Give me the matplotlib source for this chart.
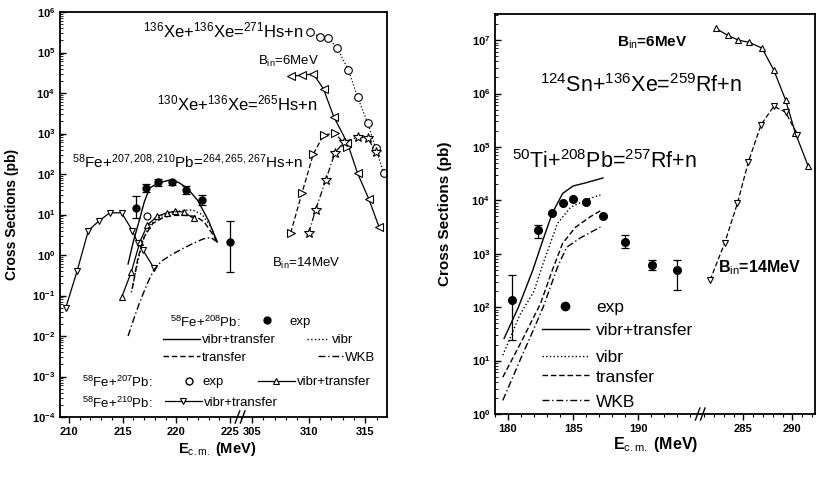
import numpy as np
import matplotlib
matplotlib.use("Agg")
import matplotlib.pyplot as plt
from matplotlib.lines import Line2D
from matplotlib.legend import Legend
from matplotlib.ticker import FixedLocator, LogLocator, NullFormatter, FuncFormatter

plt.rcParams['font.family'] = ['Liberation Sans', 'DejaVu Sans']
plt.rcParams['mathtext.fontset'] = 'custom'
plt.rcParams['mathtext.rm'] = 'Liberation Sans'
plt.rcParams['mathtext.it'] = 'Liberation Sans:italic'
plt.rcParams['mathtext.bf'] = 'Liberation Sans:bold'
plt.rcParams['mathtext.default'] = 'regular'

# ---------------- left panel data (Hs) ----------------
# 58Fe+210Pb vibr+transfer
fe210_E = [209.7, 210.75, 211.8, 212.8, 213.8, 214.9, 215.9, 216.4, 216.9, 217.9]
fe210_s = [0.05, 0.4, 4.0, 7.0, 11, 11, 4.0, 2.0, 1.3, 0.48]
# 58Fe+207Pb vibr+transfer
fe207_E = [214.9, 215.8, 216.6, 217.3, 218.2, 219.1, 219.9, 220.7, 221.6]
fe207_s = [0.09, 0.38, 2.1, 5.5, 9, 11, 12, 11.5, 8]
fe207_expE = [217.3]
fe207_exps = [9]
# 58Fe+208Pb exp
fe208_E = [216.2, 217.2, 218.3, 219.6, 220.9, 222.4, 225.0]
fe208_s = [14.5, 45, 63, 63, 40, 23, 2.1]
fe208_lo = [8, 35, 52, 55, 32, 17, 0.38]
fe208_hi = [28, 58, 76, 72, 50, 30, 7]
# 58Fe+208Pb theory
vt_E = [215.5, 216.0, 216.5, 217.0, 217.5, 218.3, 219.3, 220.2, 221.0, 222.0, 223.0, 223.8]
vt_s = [0.6, 2.2, 6.5, 20, 45, 60, 70, 62, 45, 22, 7, 2.1]
vb_E = [215.8, 216.3, 216.8, 217.5, 218.5, 219.5, 220.5, 221.5, 222.4, 223.2, 223.8]
vb_s = [0.12, 0.5, 2.0, 5.5, 9, 11, 12.5, 13, 10, 5, 2.1]
tr_E = [215.9, 216.4, 217.0, 217.8, 218.8, 219.8, 220.8, 221.8, 222.6, 223.3, 223.8]
tr_s = [0.15, 0.8, 2.8, 6, 8.5, 9.5, 9.5, 9, 6.5, 3.5, 2.1]
wkb_E = [215.5, 216.0, 216.6, 217.3, 217.9, 218.6, 219.5, 220.5, 221.5, 222.5, 223.2, 223.8]
wkb_s = [0.01, 0.025, 0.07, 0.2, 0.43, 0.7, 1.0, 1.4, 1.9, 2.5, 2.7, 2.1]
# Xe+Xe
xe136_E = [310.1, 311.0, 311.7, 312.5, 313.5, 314.3, 315.2, 315.9, 316.6]
xe136_s = [3.2e5, 2.4e5, 2.3e5, 1.3e5, 3.7e4, 8.0e3, 1.8e3, 440, 105]
xe6_E = [308.4, 309.4, 310.4, 311.3, 312.2, 313.4, 314.3, 315.3, 316.2]
xe6_s = [2.6e4, 2.75e4, 2.95e4, 1.26e4, 2.6e3, 590, 105, 24, 4.9]
xe130_E = [308.4, 309.4, 310.4, 311.3, 312.3, 313.4]
xe130_s = [3.5, 34, 310, 910, 1020, 470]
xe14_E = [310.0, 310.6, 311.5, 312.3, 313.1, 314.3, 315.2, 315.9]
xe14_s = [3.5, 13, 71, 330, 620, 810, 780, 350]

# ---------------- right panel data (Rf) ----------------
sn6_E = [282.2, 283.4, 284.5, 285.6, 286.9, 288.1, 289.3, 290.3, 291.6]
sn6_s = [1.66e7, 1.23e7, 1.0e7, 9.1e6, 7.1e6, 2.75e6, 7.6e5, 1.82e5, 4.4e4]
sn14_E = [281.6, 283.1, 284.4, 285.5, 286.8, 288.1, 289.3, 290.5]
sn14_s = [320, 1600, 8900, 5.2e4, 2.6e5, 5.8e5, 4.5e5, 1.7e5]
ti_E = [180.3, 182.3, 183.4, 184.2, 185.0, 186.0, 187.3, 189.0, 191.1, 193.0]
ti_s = [135, 2750, 5800, 8900, 10500, 9300, 5000, 1650, 620, 490]
ti_lo = [24, 1950, 5800, 8900, 10500, 9300, 5000, 1260, 490, 210]
ti_hi = [400, 3470, 5800, 8900, 10500, 9300, 5000, 2240, 760, 760]
tvt_E = [179.7, 180.8, 181.9, 182.6, 183.4, 184.2, 185.0, 186.0, 187.3]
tvt_s = [26, 100, 490, 1580, 5750, 13500, 18600, 21400, 26300]
tvb_E = [179.6, 180.9, 182.0, 182.7, 183.8, 184.8, 186.1, 187.1]
tvb_s = [12.6, 71, 200, 660, 3700, 7400, 10500, 12600]
ttr_E = [179.6, 181.0, 182.5, 183.4, 184.2, 185.2, 186.3, 187.2]
ttr_s = [4.9, 22, 117, 490, 1580, 3160, 4900, 6600]
twkb_E = [179.6, 181.0, 182.0, 182.7, 183.8, 184.5, 185.5, 187.1]
twkb_s = [1.8, 11.2, 40, 100, 560, 1320, 1950, 3160]

W, H = 817, 479


def broken(lo_end, hi_start, ratio):
    mid = 0.5 * (lo_end + hi_start)

    def fwd(x):
        x = np.asarray(x, float)
        return np.where(x < mid, x, lo_end + (x - hi_start) * ratio)

    def inv(u):
        u = np.asarray(u, float)
        return np.where(u < lo_end, u, hi_start + (u - lo_end) / ratio)
    return fwd, inv


def pbox(l, r, t, b):
    return [l / W, 1 - b / H, (r - l) / W, (b - t) / H]


def ftext(px, py, s, fs, **kw):
    fig.text(px / W, 1 - py / H, s, fontsize=fs, va='baseline', ha='left', **kw)


def key(ax, x, y, h, label, hl, pad, fs):
    lg = Legend(ax, [h], [label], loc='center left', bbox_to_anchor=(x, y),
                frameon=False, borderpad=0, borderaxespad=0, handlelength=hl,
                handletextpad=pad, fontsize=fs, numpoints=1)
    ax.add_artist(lg)


def style(ax, xlim, lo_end, hi_start, ratio, majors, minors, ylim):
    fwd, inv = broken(lo_end, hi_start, ratio)
    ax.set_xscale('function', functions=(fwd, inv))
    ax.set_yscale('log')
    ax.set_xlim(*xlim)
    ax.set_ylim(*ylim)
    ax.xaxis.set_major_locator(FixedLocator(majors))
    ax.xaxis.set_minor_locator(FixedLocator(minors))
    ax.xaxis.set_major_formatter(FuncFormatter(lambda v, p: '%d' % round(v)))
    ax.yaxis.set_major_locator(LogLocator(base=10, numticks=20))
    ax.yaxis.set_minor_locator(LogLocator(base=10, subs=np.arange(2, 10), numticks=20))
    ax.yaxis.set_minor_formatter(NullFormatter())
    ax.yaxis.set_major_formatter(FuncFormatter(
        lambda v, p: r'$\mathbf{10^{%d}}$' % round(np.log10(v))))
    ax.tick_params(axis='x', which='major', direction='out', length=4, width=1, labelsize=8)
    ax.tick_params(axis='x', which='minor', direction='out', length=2.5, width=0.8)
    ax.tick_params(axis='y', which='major', direction='in', length=4, width=1, labelsize=8)
    ax.tick_params(axis='y', which='minor', direction='in', length=2, width=0.6)
    for lab in ax.get_xticklabels():
        lab.set_fontweight('bold')
    for sp in ax.spines.values():
        sp.set_linewidth(1.3)
    # break marks on the x axis
    u0 = xlim[0]
    u1 = float(fwd(xlim[1]))
    fb = (lo_end - u0) / (u1 - u0)
    for dx in (-0.008, 0.008):
        ax.plot([fb + dx - 0.007, fb + dx + 0.007], [-0.015, 0.015], color='k', lw=1,
                transform=ax.transAxes, clip_on=False)


fig = plt.figure(figsize=(W / 100, H / 100), dpi=100)
axL = fig.add_axes(pbox(60, 387, 12, 417))
axR = fig.add_axes(pbox(495, 815, 14, 414))

mk = dict(mfc='white', mec='k', mew=0.8, color='k', lw=0.9)

# ---- left panel ----
axL.plot(fe210_E, fe210_s, marker='v', ms=5, ls='-', **mk)
axL.plot(fe207_E, fe207_s, marker='^', ms=5, ls='-', **mk)
axL.plot(fe207_expE, fe207_exps, marker='o', ms=5, ls='none', mfc='white', mec='k', mew=0.8)
axL.plot(vt_E, vt_s, color='k', lw=1.0, ls='-')
axL.plot(vb_E, vb_s, color='k', lw=1.0, ls=':')
axL.plot(tr_E, tr_s, color='k', lw=1.0, ls='--', dashes=(4, 2))
axL.plot(wkb_E, wkb_s, color='k', lw=1.0, ls='-.', dashes=(5, 2, 1, 2))
axL.errorbar(fe208_E, fe208_s,
             yerr=[np.array(fe208_s) - np.array(fe208_lo), np.array(fe208_hi) - np.array(fe208_s)],
             fmt='o', ms=5, color='k', ecolor='k', elinewidth=0.9, capsize=3, capthick=0.9)
axL.plot(xe136_E, xe136_s, marker='o', ms=5.5, ls=':', **mk)
axL.plot(xe6_E, xe6_s, marker='<', ms=5.5, ls='-', **mk)
axL.plot(xe130_E, xe130_s, marker='>', ms=5.5, ls='--', dashes=(4, 2), **mk)
axL.plot(xe14_E, xe14_s, marker='*', ms=7, ls='-.', dashes=(5, 2, 1, 2), **mk)

style(axL, (209.16, 316.9), 225.93, 303.94, 1.056,
      [210, 215, 220, 225, 305, 310, 315],
      list(range(210, 226)) + list(range(304, 317)), (1e-4, 1e6))

axL.set_xlabel(r'E$_{\rm c.m.}$ (MeV)', fontsize=10.5, fontweight='bold')
axL.xaxis.set_label_coords(0.48, -0.057)
axL.set_ylabel('Cross Sections (pb)', fontsize=10, fontweight='bold')
axL.yaxis.set_label_coords(-0.125, 0.5)

fsl = 9.5
key(axL, 0.600, 0.2346, Line2D([], [], marker='o', ms=5, color='k', ls='none'), 'exp', 1.6, 0.9, fsl)
key(axL, 0.315, 0.190, Line2D([], [], color='k', lw=1), 'vibr+transfer', 2.8, 0.15, fsl)
key(axL, 0.755, 0.190, Line2D([], [], color='k', lw=1, ls=':'), 'vibr', 1.6, 0.3, fsl)
key(axL, 0.315, 0.146, Line2D([], [], color='k', lw=1, ls='--', dashes=(4, 2)), 'transfer', 2.8, 0.15, fsl)
key(axL, 0.790, 0.146, Line2D([], [], color='k', lw=1, ls='-.', dashes=(5, 2, 1, 2)), 'WKB', 1.9, 0.15, fsl)
key(axL, 0.375, 0.0864, Line2D([], [], marker='o', ms=5, ls='none', mfc='white', mec='k'), 'exp', 1.0, 0.5, fsl)
key(axL, 0.605, 0.0864, Line2D([], [], marker='^', ms=5, **mk), 'vibr+transfer', 2.8, 0.15, fsl)
key(axL, 0.321, 0.0346, Line2D([], [], marker='v', ms=5, **mk), 'vibr+transfer', 2.8, 0.15, fsl)

# ---- right panel ----
axR.plot(sn6_E, sn6_s, marker='^', ms=4.5, ls='-', **mk)
axR.plot(sn14_E, sn14_s, marker='v', ms=4.5, ls='--', dashes=(4, 2), **mk)
axR.plot(tvt_E, tvt_s, color='k', lw=1.0, ls='-')
axR.plot(tvb_E, tvb_s, color='k', lw=1.0, ls=':')
axR.plot(ttr_E, ttr_s, color='k', lw=1.0, ls='--', dashes=(4, 2))
axR.plot(twkb_E, twkb_s, color='k', lw=1.0, ls='-.', dashes=(5, 2, 1, 2))
axR.errorbar(ti_E, ti_s,
             yerr=[np.array(ti_s) - np.array(ti_lo), np.array(ti_hi) - np.array(ti_s)],
             fmt='o', ms=5.5, color='k', ecolor='k', elinewidth=0.9, capsize=3, capthick=0.9)

style(axR, (179.0, 292.3), 194.77, 280.6, 0.754,
      [180, 185, 190, 285, 290],
      list(range(179, 195)) + list(range(281, 293)), (1, 10 ** 7.49))

axR.set_xlabel(r'E$_{\rm c.m.}$ (MeV)', fontsize=11.5, fontweight='bold')
axR.xaxis.set_label_coords(0.503, -0.0525)
axR.set_ylabel('Cross Sections (pb)', fontsize=11, fontweight='bold')
axR.yaxis.set_label_coords(-0.134, 0.5)

fsr = 12.5
key(axR, 0.147, 0.2675, Line2D([], [], marker='o', ms=6, color='k', ls='none'), 'exp', 2.7, 0.4, fsr)
key(axR, 0.147, 0.210, Line2D([], [], color='k', lw=1), 'vibr+transfer', 2.7, 0.4, fsr)
key(axR, 0.147, 0.1425, Line2D([], [], color='k', lw=1, ls=':'), 'vibr', 2.7, 0.4, fsr)
key(axR, 0.147, 0.0925, Line2D([], [], color='k', lw=1, ls='--', dashes=(4, 2)), 'transfer', 2.7, 0.4, fsr)
key(axR, 0.147, 0.030, Line2D([], [], color='k', lw=1, ls='-.', dashes=(5, 2, 1, 2)), 'WKB', 2.7, 0.4, fsr)

# ---- annotations ----
ftext(143, 37, r'$^{136}$Xe+$^{136}$Xe=$^{271}$Hs+n', 12)
ftext(258, 65, r'B$_{\rm in}$=6MeV', 9.5)
ftext(157, 110, r'$^{130}$Xe+$^{136}$Xe=$^{265}$Hs+n', 12)
ftext(72, 168, r'$^{58}$Fe+$^{207,208,210}$Pb=$^{264,265,267}$Hs+n', 11)
ftext(272, 267, r'B$_{\rm in}$=14MeV', 9.5)
ftext(170, 327, r'$^{58}$Fe+$^{208}$Pb:', fsl)
ftext(82, 387, r'$^{58}$Fe+$^{207}$Pb:', fsl)
ftext(82, 408, r'$^{58}$Fe+$^{210}$Pb:', fsl)

ftext(617, 47, r'B$_{\rm in}$=6MeV', 11, fontweight='bold')
ftext(540, 92, r'$^{124}$Sn+$^{136}$Xe=$^{259}$Rf+n', 15.5)
ftext(512, 168, r'$^{50}$Ti+$^{208}$Pb=$^{257}$Rf+n', 15.5)
ftext(718, 272, r'B$_{\rm in}$=14MeV', 11.5, fontweight='bold')

fig.savefig('out.png', dpi=100)
